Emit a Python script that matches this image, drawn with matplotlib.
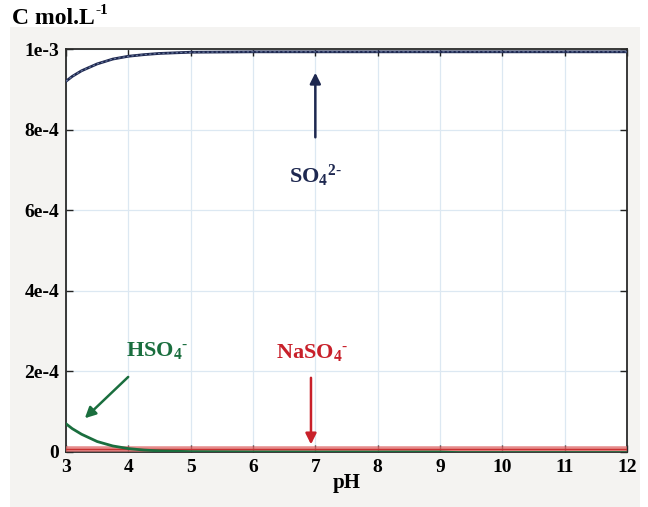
import matplotlib
matplotlib.use("Agg")
import matplotlib.pyplot as plt
from matplotlib.patches import Rectangle

plt.rcParams['font.family'] = ['Liberation Serif', 'DejaVu Serif']
plt.rcParams['mathtext.fontset'] = 'custom'
plt.rcParams['mathtext.rm'] = 'Liberation Serif:bold'
plt.rcParams['mathtext.bf'] = 'Liberation Serif:bold'
plt.rcParams['mathtext.it'] = 'Liberation Serif:bold'

# Data
ph_so4 = [3.0, 3.1, 3.25, 3.5, 3.75, 4.0, 4.25, 4.5, 5.0, 6.0, 7.0, 8.0, 9.0, 10.0, 11.0, 12.0]
c_so4 = [9.20e-4, 9.32e-4, 9.46e-4, 9.63e-4, 9.75e-4, 9.82e-4, 9.86e-4, 9.89e-4, 9.92e-4,
         9.93e-4, 9.93e-4, 9.93e-4, 9.93e-4, 9.93e-4, 9.93e-4, 9.93e-4]
ph_hso4 = [3.0, 3.1, 3.25, 3.5, 3.75, 4.0, 4.25, 4.5, 5.0, 6.0, 7.0, 8.0, 9.0, 9.3, 10.0, 11.0, 12.0]
c_hso4 = [7.0e-5, 5.8e-5, 4.4e-5, 2.6e-5, 1.5e-5, 8.5e-6, 4.8e-6, 2.7e-6, 9e-7, 2e-7, 0.0, 0.0, 0.0,
          -1.5e-6, -1.5e-6, -1.5e-6, -1.5e-6]
ph_naso4 = [3.0, 12.0]
c_naso4 = [8.0e-6, 8.0e-6]

x_ticks = [3, 4, 5, 6, 7, 8, 9, 10, 11, 12]
y_ticks = [0, 2e-4, 4e-4, 6e-4, 8e-4, 1e-3]
y_tick_labels = ['0', '2e-4', '4e-4', '6e-4', '8e-4', '1e-3']

W, H = 648, 507
fig = plt.figure(figsize=(W / 100, H / 100), dpi=100)
fig.patch.set_facecolor('white')
fig.patches.append(Rectangle((10 / W, 0), 630 / W, (H - 27) / H, transform=fig.transFigure,
                             facecolor='#f4f3f1', edgecolor='none', zorder=-10))

ax = fig.add_axes([66 / W, (H - 452) / H, (627 - 66) / W, (452 - 49) / H])
ax.set_facecolor('white')

navy = '#1e2850'
green = '#1a6e3e'
red = '#c8202a'

ax.plot(ph_naso4, c_naso4, color='#e07070', lw=4, alpha=0.8, zorder=3, solid_capstyle='butt')
ax.plot(ph_naso4, c_naso4, color='#c83030', lw=1, zorder=3)
ax.plot(ph_hso4, c_hso4, color=green, lw=2, zorder=4)
ax.plot(ph_so4, c_so4, color=navy, lw=2.0, zorder=4)
ax.plot(ph_so4, c_so4, color='#6a7aa0', lw=0.8, ls=(0, (2, 2)), zorder=5)

ax.set_xlim(3, 12)
ax.set_ylim(0, 1e-3)
ax.set_xticks(x_ticks)
ax.set_yticks(y_ticks)
ax.set_yticklabels(y_tick_labels)
ax.grid(True, color='#dce8f2', lw=0.9)
ax.set_axisbelow(True)
ax.tick_params(direction='in', length=5, width=1, color='#222222', top=True, right=True,
               labelsize=14, pad=5)
for lbl in ax.get_xticklabels() + ax.get_yticklabels():
    lbl.set_fontweight('bold')
for s in ax.spines.values():
    s.set_color('#2a2a2a')
    s.set_linewidth(1.3)

ax.set_xlabel('pH', fontsize=15, fontweight='bold', labelpad=-2)

fig.text(12 / W, 1 - 18 / H, 'C mol.L', fontsize=17, fontweight='bold', va='center', ha='left')
fig.text(95 / W, 1 - 11 / H, '-1', fontsize=11, fontweight='bold', va='center', ha='left')

# annotations
ax.annotate('', xy=(7.0, 9.48e-4), xytext=(7.0, 7.74e-4),
            arrowprops=dict(arrowstyle='-|>', color=navy, lw=1.8, mutation_scale=16))
ax.text(7.0, 6.85e-4, r'$\mathbf{SO_4{}^{2\text{-}}}$', color=navy, fontsize=16, ha='center', va='center')

ax.annotate('', xy=(3.27, 7.9e-5), xytext=(4.03, 1.91e-4),
            arrowprops=dict(arrowstyle='-|>', color=green, lw=1.8, mutation_scale=16))
ax.text(4.46, 2.53e-4, r'$\mathbf{HSO_4{}^{\text{-}}}$', color=green, fontsize=16, ha='center', va='center')

ax.annotate('', xy=(6.93, 1.2e-5), xytext=(6.93, 1.91e-4),
            arrowprops=dict(arrowstyle='-|>', color=red, lw=1.8, mutation_scale=16))
ax.text(6.95, 2.48e-4, r'$\mathbf{NaSO_4{}^{\text{-}}}$', color=red, fontsize=16, ha='center', va='center')

fig.savefig('out.png', dpi=100)
